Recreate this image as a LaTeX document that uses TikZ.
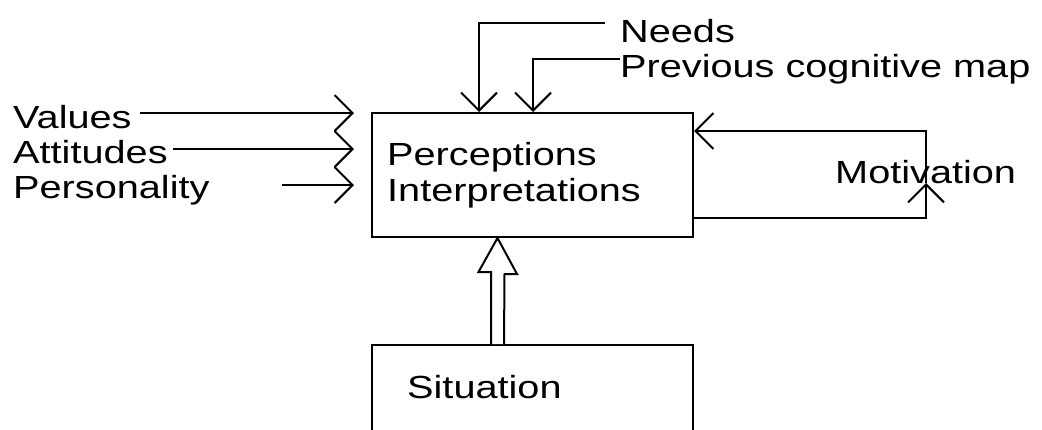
\documentclass[tikz,border=0pt]{standalone}
\usepackage{fontspec}
\setmainfont[FakeStretch=1.24]{Liberation Sans}
\usetikzlibrary{arrows.meta}
\begin{document}
\begin{tikzpicture}[x=1pt,y=-1pt,
  lw/.style={line width=2pt},
  box/.style={draw, lw, rectangle, inner sep=0pt},
  txt/.style={anchor=base west, inner sep=0pt, font=\fontsize{32}{38}\selectfont},
  arr/.style={lw, -{Straight Barb[length=18pt,width=36pt,line width=2pt]}}
]
\path[use as bounding box] (0,0) rectangle (1042,429);
\clip (0,0) rectangle (1042,429);

% boxes
\node[box, minimum width=321pt, minimum height=124pt] (main) at (532.5,175) {};
\node[box, minimum width=321pt, minimum height=125pt] (sit) at (532.5,407.5) {};

% texts
\node[txt] (values) at (13,128) {Values};
\node[txt] (attitudes) at (13,163) {Attitudes};
\node[txt] (personality) at (13,198) {Personality};
\node[txt] (needs) at (620,42) {Needs};
\node[txt] (prev) at (620,77) {Previous cognitive map};
\node[txt] (motiv) at (835,183) {Motivation};
\node[txt] (perc) at (387,165) {Perceptions};
\node[txt] (interp) at (387,201) {Interpretations};
\node[txt] (situation) at (407,398) {Situation};

% left inputs
\coordinate (v0) at (140,113);
\coordinate (a0) at (173,149);
\coordinate (p0) at (282,185);
\draw[arr] (v0) -- ([xshift=-17pt]main.west |- v0);
\draw[arr] (a0) -- ([xshift=-17pt]main.west |- a0);
\draw[arr] (p0) -- ([xshift=-17pt]main.west |- p0);

% top inputs
\coordinate (n1) at (479,23);
\coordinate (q1) at (533,59);
\draw[arr] ([xshift=-15pt]needs.west |- n1) -- (n1) -- (main.north -| n1);
\draw[arr] (prev.west |- q1) -- (q1) -- (main.north -| q1);

% motivation loop
\coordinate (m1) at (926,218);
\coordinate (mm) at (926,183);
\coordinate (m2) at (926,131);
\draw[arr] (main.east |- m1) -- (m1) -- (mm);
\draw[arr] (mm) -- (m2) -- (main.east |- m2);

% hollow arrow from situation
\coordinate (hb) at (sit.north -| 497.5,0);
\coordinate (ht) at (main.south -| 497.5,0);
\draw[lw, fill=white] ([xshift=-6.5pt]hb) -- ++(0,-72) -- ++(-12.5,0) -- (ht)
  -- ++(19.5,36) -- ++(-12.5,0) -- ([xshift=6.5pt]hb);
\end{tikzpicture}
\end{document}
